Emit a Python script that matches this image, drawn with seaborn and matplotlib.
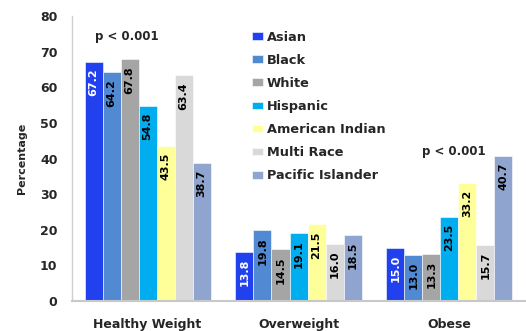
import matplotlib
matplotlib.use("Agg")
import matplotlib.pyplot as plt
import seaborn as sns
import pandas as pd

categories = ["Healthy Weight", "Overweight", "Obese"]
groups = ["Asian", "Black", "White", "Hispanic", "American Indian", "Multi Race", "Pacific Islander"]
asian = [67.2, 13.8, 15.0]
black = [64.2, 19.8, 13.0]
white = [67.8, 14.5, 13.3]
hispanic = [54.8, 19.1, 23.5]
american_indian = [43.5, 21.5, 33.2]
multi_race = [63.4, 16.0, 15.7]
pacific_islander = [38.7, 18.5, 40.7]
colors = ["#2140EE", "#5189D2", "#A5A5A5", "#00AEEF", "#FFFF99", "#D9D9D9", "#8FA5CF"]
y_ticks = [0, 10, 20, 30, 40, 50, 60, 70, 80]
p_text = "p < 0.001"

series = [asian, black, white, hispanic, american_indian, multi_race, pacific_islander]
rows = []
for g, vals in zip(groups, series):
    for c, v in zip(categories, vals):
        rows.append({"category": c, "group": g, "value": v})
df = pd.DataFrame(rows)

sns.set_theme(style="white")
plt.rcParams["font.family"] = ["DejaVu Sans"]
plt.rcParams["font.weight"] = "bold"

fig = plt.figure(figsize=(5.26, 3.31), dpi=100)
ax = fig.add_axes([0.137, 0.0906, 0.861, 0.861])

sns.barplot(data=df, x="category", y="value", hue="group", order=categories,
            hue_order=groups, palette=colors, saturation=1, width=0.835,
            edgecolor="white", linewidth=0.4, ax=ax, legend=True)

ax.set_xlim(-0.5, 2.5)
ax.set_ylim(0, 80)
ax.set_yticks(y_ticks)
ax.tick_params(axis="y", labelsize=9, length=0, pad=10.5)
ax.tick_params(axis="x", labelsize=9, length=0, pad=12)
for lab in ax.get_xticklabels() + ax.get_yticklabels():
    lab.set_fontweight("bold")
ax.set_xlabel("")
ax.set_ylabel("Percentage", fontsize=8, fontweight="bold", labelpad=9)

for s in ["top", "right"]:
    ax.spines[s].set_visible(False)
ax.spines["left"].set_color("#D0D0D0")
ax.spines["bottom"].set_color("#C8C8C8")
ax.spines["left"].set_linewidth(1.0)
ax.spines["bottom"].set_linewidth(1.5)

# value labels, rotated inside each bar
for container, g in zip(ax.containers, groups):
    txt_color = "white" if g == "Asian" else "black"
    for bar in container:
        h = bar.get_height()
        ax.annotate(f"{h:.1f}", (bar.get_x() + bar.get_width() / 2, h),
                    xytext=(0, -5), textcoords="offset points",
                    rotation=90, ha="center", va="top",
                    fontsize=8, fontweight="bold", color=txt_color)

ax.text(-0.136, 74.2, p_text, ha="center", va="center", fontsize=8.5, fontweight="bold")
ax.text(2.03, 41.9, p_text, ha="center", va="center", fontsize=8.5, fontweight="bold")

leg = ax.legend(loc="upper left", bbox_to_anchor=(0.479, 0.907),
                bbox_transform=fig.transFigure, frameon=False,
                fontsize=9.3, handlelength=0.85, handleheight=0.55, handletextpad=0.3,
                labelspacing=0.78, borderaxespad=0, borderpad=0)
for t in leg.get_texts():
    t.set_fontweight("bold")

fig.savefig("out.png", dpi=100)
